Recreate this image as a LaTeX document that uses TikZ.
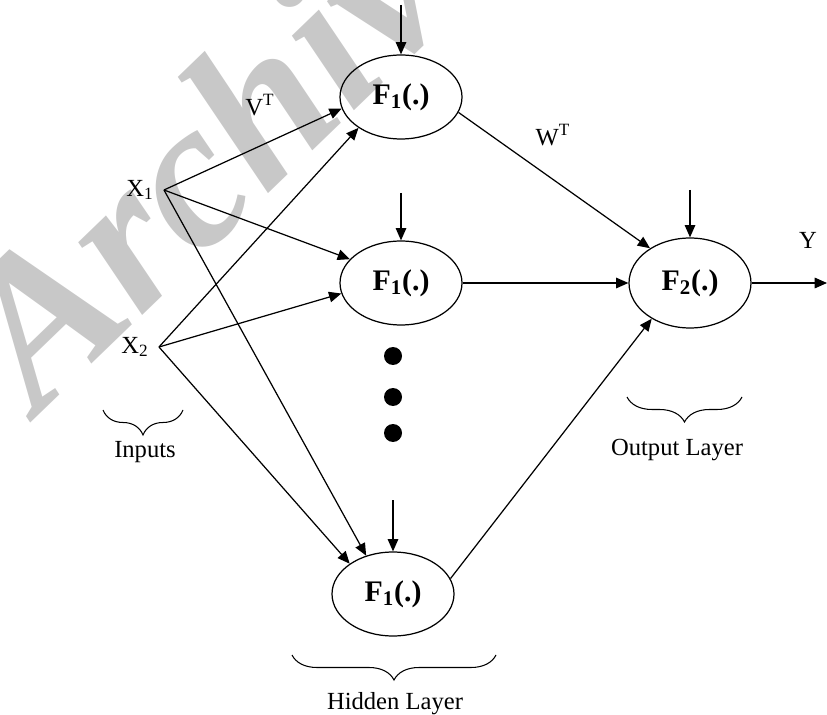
\documentclass[tikz,border=0pt]{standalone}
\usepackage{fontspec}
\setmainfont{Liberation Serif}
\usetikzlibrary{shapes.geometric,arrows.meta,decorations.pathreplacing}
\definecolor{wmgray}{RGB}{200,200,200}

\begin{document}
\begin{tikzpicture}[x=0.02cm,y=-0.02cm,
    neuron/.style={draw,ellipse,line width=0.7pt,minimum width=2.44cm,
      minimum height=1.68cm,inner sep=0pt,font=\fontsize{17}{19}\selectfont\bfseries},
    link/.style={line width=0.7pt,-{Triangle[length=7pt,width=6pt]}},
    lbl/.style={font=\fontsize{14}{16}\selectfont,inner sep=0pt},
    inp/.style={lbl,inner xsep=0.2cm},
    brc/.style={decorate,line width=0.6pt,decoration={brace,mirror,amplitude=0.5cm}},
    dot/.style={circle,fill,inner sep=0pt,minimum size=0.36cm}]
  \useasboundingbox (0,0) rectangle (827,715);

  % watermark
  \node[text=wmgray,font=\fontsize{120}{122}\selectfont\bfseries\itshape,
    rotate=44,anchor=base west,inner sep=0pt] (wm) at (38,416) {Archive};

  % neurons
  \node[neuron] (f1a) at (401,97) {F\textsubscript{1}(.)};
  \node[neuron] (f1b) at (401,283) {F\textsubscript{1}(.)};
  \node[neuron] (f1c) at (393,594) {F\textsubscript{1}(.)};
  \node[neuron,minimum height=1.8cm] (f2) at (690,283) {F\textsubscript{2}(.)};

  % inputs
  \node[inp] (x1) at (140,190) {X\textsubscript{1}};
  \node[inp] (x2) at (135,347) {X\textsubscript{2}};

  \foreach \i/\y in {1/356,2/397,3/433}
    \node[dot] (dot\i) at (393,\y) {};

  % bias arrows
  \coordinate (b1) at (401,5);
  \coordinate (b2) at (401,193);
  \coordinate (b3) at (393,500);
  \coordinate (b4) at (690,190);
  \coordinate (yout) at (827,283);
  \draw[link] (b1) -- (f1a.north);
  \draw[link] (b2) -- (f1b.north);
  \draw[link] (b3) -- (f1c.north);
  \draw[link] (b4) -- (f2.north);

  % weights
  \draw[link] (x1.east) -- (f1a.191);
  \draw[link] (x1.east) -- (f1b.155);
  \draw[link] (x1.east) -- (f1c.125);
  \draw[link] (x2.east) -- (f1a.216);
  \draw[link] (x2.east) -- (f1b.190);
  \draw[link] (x2.east) -- (f1c.145);
  \draw[link] (f1a.345) -- (f2.139);
  \draw[link] (f1b.east) -- (f2.west);
  \draw[link] (f1c.15) -- (f2.223);
  \draw[link] (f2.east) -- (yout);

  \node[lbl] (vt) at (260,105) {V\textsuperscript{T}};
  \node[lbl] (wt) at (553,135) {W\textsuperscript{T}};
  \node[lbl] (y) at (808,240) {Y};

  % braces
  \draw[brc] (103,410) -- (183,410);
  \draw[brc] (627,397) -- (742,397);
  \draw[brc] (292,655) -- (496,655);
  \node[lbl] (inputs) at (145,452) {Inputs};
  \node[lbl] (outlayer) at (677,450) {Output Layer};
  \node[lbl] (hidlayer) at (395,704) {Hidden Layer};
\end{tikzpicture}
\end{document}
